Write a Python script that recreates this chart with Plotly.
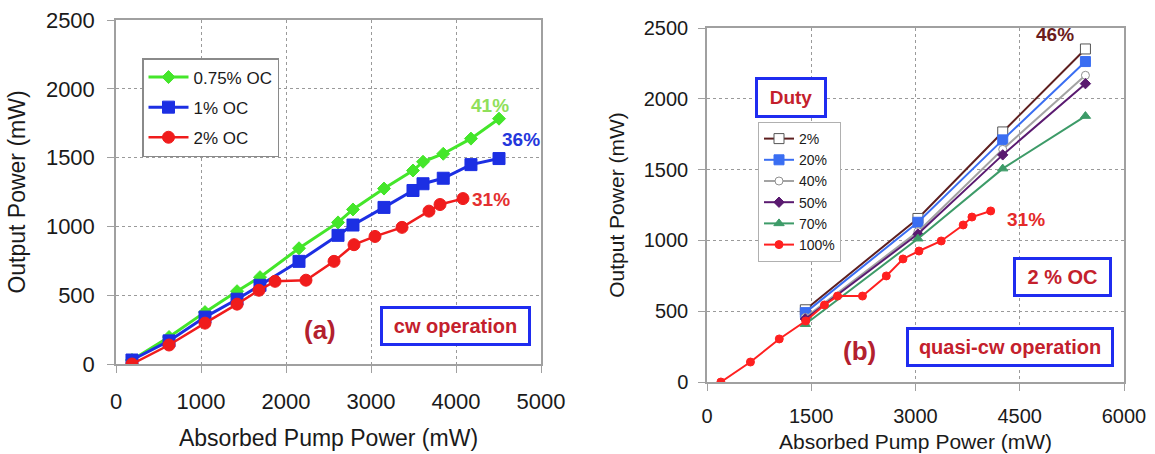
import plotly.graph_objects as go

FONT = "Liberation Sans, Arial, sans-serif"

# ---------------- (a) cw operation ----------------
pump_075 = [188, 624, 1047, 1424, 1694, 2153, 2612, 2788, 3153, 3494, 3612, 3850, 4176, 4506]
out_075 = [29, 196, 377, 529, 631, 841, 1029, 1123, 1275, 1406, 1470, 1528, 1638, 1783]

pump_1 = [188, 624, 1047, 1424, 1694, 2153, 2612, 2788, 3153, 3494, 3612, 3850, 4176, 4506]
out_1 = [29, 168, 341, 471, 572, 746, 935, 1010, 1138, 1261, 1310, 1350, 1449, 1493]

pump_2 = [188, 624, 1047, 1424, 1682, 1871, 2235, 2565, 2800, 3047, 3365, 3682, 3812, 4082]
out_2 = [0, 138, 297, 435, 536, 601, 609, 746, 867, 927, 993, 1111, 1159, 1202]

# ---------------- (b) quasi-cw operation, 2% OC ----------------
pump_duty = [1415, 3035, 4255, 5445]
out_d2 = [510, 1155, 1766, 2352]
out_d20 = [490, 1128, 1710, 2263]
out_d40 = [455, 1062, 1643, 2166]
out_d50 = [445, 1045, 1604, 2107]
out_d70 = [408, 1012, 1507, 1878]

pump_d100 = [200, 625, 1040, 1420, 1690, 1878, 2237, 2580, 2820, 3050, 3370, 3686, 3812, 4082]
out_d100 = [0, 141, 304, 431, 544, 607, 607, 749, 869, 925, 996, 1109, 1165, 1208]

x_ticks_a = [0, 1000, 2000, 3000, 4000, 5000]
x_ticks_b = [0, 1500, 3000, 4500, 6000]
y_ticks = [0, 500, 1000, 1500, 2000, 2500]

fig = go.Figure()

def add(x, y, name, color, symbol, size, lw, xa, ya, legend, mfill=None, mline=None):
    fig.add_trace(go.Scatter(
        x=x, y=y, name=name, mode="lines+markers",
        line=dict(color=color, width=lw),
        marker=dict(symbol=symbol, size=size, color=mfill or color,
                    line=dict(color=mline or color, width=1)),
        xaxis=xa, yaxis=ya, legend=legend, legendgroup=name,
    ))

add(pump_075, out_075, "0.75% OC", "#44e62a", "diamond", 10, 3, "x", "y", "legend")
add(pump_1, out_1, "1% OC", "#1c2fe3", "square", 12, 3, "x", "y", "legend")
add(pump_2, out_2, "2% OC", "#f01c1c", "circle", 12, 2.5, "x", "y", "legend")

add(pump_duty, out_d2, "2%", "#5e1f1f", "square", 10, 2, "x2", "y2", "legend2", mfill="white", mline="#555555")
add(pump_duty, out_d20, "20%", "#3a6ef2", "square", 10, 2, "x2", "y2", "legend2")
add(pump_duty, out_d40, "40%", "#a3a3a3", "circle", 8, 2, "x2", "y2", "legend2", mfill="white", mline="#909090")
add(pump_duty, out_d50, "50%", "#5a1a70", "diamond", 8, 2, "x2", "y2", "legend2")
add(pump_duty, out_d70, "70%", "#3d9b68", "triangle-up", 9, 2, "x2", "y2", "legend2")
add(pump_d100, out_d100, "100%", "#ff2020", "circle", 8, 2, "x2", "y2", "legend2")

W, H = 1155, 454
def dom_x(a, b):
    return [a / W, b / W]
def dom_y(top, bottom):
    return [1 - bottom / H, 1 - top / H]

axis_common = dict(
    showgrid=True, gridcolor="#9a9a9a", griddash="dot", gridwidth=1,
    showline=True, linecolor="#a0a0a0", linewidth=1.5, mirror=True,
    ticks="outside", tickcolor="#a0a0a0", ticklen=7, zeroline=False,
    color="#1a1a1a", automargin=False,
)

fig.update_layout(
    width=W, height=H, margin=dict(l=0, r=0, t=0, b=0, autoexpand=False),
    paper_bgcolor="white", plot_bgcolor="white",
    font=dict(family=FONT, color="#1a1a1a"),
    xaxis=dict(domain=dom_x(116, 541), range=[0, 5000], tickvals=x_ticks_a, anchor="y",
               tickfont=dict(size=22), ticklabelstandoff=10,
               title=dict(text="Absorbed Pump Power (mW)", font=dict(size=23), standoff=17),
               **axis_common),
    yaxis=dict(domain=dom_y(20, 364), range=[0, 2500], tickvals=y_ticks, anchor="x",
               tickfont=dict(size=22), ticklabelstandoff=8,
               title=dict(text="Output Power (mW)", font=dict(size=23), standoff=14),
               **axis_common),
    xaxis2=dict(domain=dom_x(707, 1124), range=[0, 6000], tickvals=x_ticks_b, anchor="y2",
                tickfont=dict(size=20), ticklabelstandoff=8,
                title=dict(text="Absorbed Pump Power (mW)", font=dict(size=21), standoff=9),
                **axis_common),
    yaxis2=dict(domain=dom_y(28, 382), range=[0, 2500], tickvals=y_ticks, anchor="x2",
                tickfont=dict(size=20), ticklabelstandoff=6,
                title=dict(text="Output Power (mW)", font=dict(size=21), standoff=13),
                **axis_common),
    legend=dict(x=142 / W, y=1 - 58 / H, xanchor="left", yanchor="top",
                bgcolor="white", bordercolor="#8a8a8a", borderwidth=1.5,
                font=dict(size=17, color="#1a1a1a"), tracegroupgap=5, itemwidth=40),
    legend2=dict(x=758 / W, y=1 - 122 / H, xanchor="left", yanchor="top",
                 bgcolor="white", bordercolor="#b0b0b0", borderwidth=1,
                 font=dict(size=14, color="#1a1a1a"), tracegroupgap=0, itemwidth=30),
    showlegend=True,
)

def txt(x, y, text, color, size, xr="x", yr="y", bold=True):
    fig.add_annotation(x=x, y=y, xref=xr, yref=yr, text=("<b>%s</b>" % text) if bold else text,
                       showarrow=False, font=dict(size=size, color=color, family=FONT),
                       xanchor="center", yanchor="middle")

def boxed(x, y, text, w, h, xr, yr, size=20):
    fig.add_annotation(x=x, y=y, xref=xr, yref=yr, text="<b>%s</b>" % text, showarrow=False,
                       font=dict(size=size, color="#c4202c", family=FONT),
                       xanchor="center", yanchor="middle", width=w, height=h, align="center",
                       bgcolor="white", bordercolor="#1f2cf0", borderwidth=3, borderpad=0)

# (a) labels
txt(4400, 1882, "41%", "#8fe05a", 19)
txt(4765, 1635, "36%", "#2437dc", 19)
txt(4412, 1192, "31%", "#e43030", 19)
txt(2400, 247, "(a)", "#b3202e", 26)
boxed(3994, 276, "cw operation", 145, 34, "x", "y")

# (b) labels
txt(5010, 2451, "46%", "#6a1c1c", 19, "x2", "y2")
txt(4585, 1146, "31%", "#e42a2a", 19, "x2", "y2")
txt(2201, 219, "(b)", "#b3202e", 26, "x2", "y2")
boxed(5115, 745, "2 % OC", 93, 34, "x2", "y2")
boxed(4360, 247, "quasi-cw operation", 202, 34, "x2", "y2")
boxed(1209, 2009, "Duty", 66, 35, "x2", "y2", size=19)

fig.write_html("out.html")
